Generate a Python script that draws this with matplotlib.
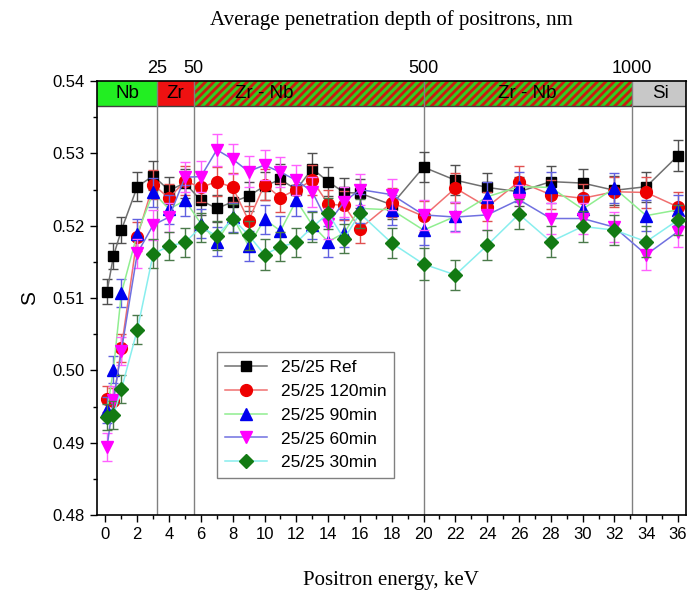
import numpy as np
import matplotlib
matplotlib.use('Agg')
import matplotlib.pyplot as plt
from matplotlib.patches import Rectangle
from matplotlib.ticker import MultipleLocator, FormatStrFormatter

# positron energy, keV
energy = [0.1, 0.5, 1, 2, 3, 4, 5, 6, 7, 8, 9, 10, 11, 12, 13, 14, 15, 16,
          18, 20, 22, 24, 26, 28, 30, 32, 34, 36]

s_ref = [0.5109, 0.5158, 0.5194, 0.5254, 0.5269, 0.5249, 0.5259, 0.5235, 0.5224, 0.5233,
         0.5241, 0.5255, 0.5264, 0.5250, 0.5279, 0.5261, 0.5246, 0.5245, 0.5229, 0.5281,
         0.5263, 0.5253, 0.5247, 0.5261, 0.5259, 0.5249, 0.5254, 0.5297]
s_120 = [0.4960, 0.4958, 0.5031, 0.5185, 0.5257, 0.5238, 0.5262, 0.5253, 0.5261, 0.5253,
         0.5207, 0.5257, 0.5239, 0.5250, 0.5263, 0.5230, 0.5228, 0.5196, 0.5232, 0.5213,
         0.5252, 0.5226, 0.5261, 0.5243, 0.5238, 0.5247, 0.5246, 0.5226]
s_90 = [0.4945, 0.5001, 0.5107, 0.5189, 0.5246, 0.5223, 0.5235, 0.5203, 0.5178, 0.5212,
        0.5172, 0.5209, 0.5193, 0.5235, 0.5201, 0.5178, 0.5190, 0.5224, 0.5222, 0.5194,
        0.5213, 0.5240, 0.5254, 0.5253, 0.5223, 0.5252, 0.5214, 0.5222]
s_60 = [0.4894, 0.4959, 0.5027, 0.5162, 0.5201, 0.5212, 0.5267, 0.5268, 0.5305, 0.5292,
        0.5275, 0.5284, 0.5274, 0.5263, 0.5247, 0.5203, 0.5233, 0.5250, 0.5243, 0.5215,
        0.5212, 0.5215, 0.5236, 0.5210, 0.5210, 0.5198, 0.5160, 0.5192]
s_30 = [0.4935, 0.4938, 0.4974, 0.5056, 0.5161, 0.5172, 0.5177, 0.5198, 0.5186, 0.5210,
        0.5187, 0.5160, 0.5171, 0.5177, 0.5198, 0.5217, 0.5182, 0.5217, 0.5176, 0.5147,
        0.5132, 0.5173, 0.5216, 0.5178, 0.5199, 0.5194, 0.5178, 0.5208]

err_ref = [0.0017, 0.0018, 0.0018, 0.0020, 0.0020, 0.0019, 0.0020, 0.0020, 0.0019, 0.0020,
           0.0020, 0.0020, 0.0021, 0.0020, 0.0021, 0.0020, 0.0020, 0.0020, 0.0020, 0.0021,
           0.0021, 0.0020, 0.0020, 0.0021, 0.0020, 0.0020, 0.0021, 0.0021]
err_120 = [0.0018, 0.0018, 0.0019, 0.0020, 0.0020, 0.0020, 0.0020, 0.0020, 0.0020, 0.0020,
           0.0020, 0.0021, 0.0020, 0.0020, 0.0021, 0.0020, 0.0020, 0.0020, 0.0020, 0.0021,
           0.0021, 0.0020, 0.0021, 0.0020, 0.0020, 0.0021, 0.0021, 0.0021]
err_90 = [0.0018, 0.0019, 0.0019, 0.0020, 0.0020, 0.0020, 0.0021, 0.0020, 0.0020, 0.0020,
          0.0021, 0.0020, 0.0020, 0.0021, 0.0020, 0.0021, 0.0020, 0.0020, 0.0021, 0.0021,
          0.0020, 0.0020, 0.0021, 0.0021, 0.0020, 0.0021, 0.0021, 0.0021]
err_60 = [0.0019, 0.0019, 0.0019, 0.0020, 0.0021, 0.0020, 0.0021, 0.0021, 0.0022, 0.0021,
          0.0021, 0.0021, 0.0021, 0.0021, 0.0021, 0.0021, 0.0021, 0.0021, 0.0021, 0.0021,
          0.0021, 0.0021, 0.0021, 0.0021, 0.0021, 0.0021, 0.0021, 0.0021]
err_30 = [0.0018, 0.0019, 0.0019, 0.0020, 0.0020, 0.0020, 0.0020, 0.0020, 0.0020, 0.0020,
          0.0020, 0.0021, 0.0020, 0.0020, 0.0021, 0.0021, 0.0020, 0.0020, 0.0021, 0.0022,
          0.0021, 0.0021, 0.0021, 0.0021, 0.0021, 0.0021, 0.0021, 0.0021]

labels = ["25/25 Ref", "25/25 120min", "25/25 90min", "25/25 60min", "25/25 30min"]

# layer boundaries (keV) and top axis labels (nm)
bounds = [3.26, 5.55, 20, 33.1]
depth_labels = ["25", "50", "500", "1000"]
layers = ["Nb", "Zr", "Zr - Nb", "Zr - Nb", "Si"]
layer_pos = [1.4, 4.4, 10.0, 26.5, 34.9]


def draw():
	plt.rcParams['font.family'] = ['Liberation Sans', 'DejaVu Sans']
	plt.rcParams['hatch.linewidth'] = 2.2

	fig = plt.figure(figsize=(6.88, 5.92), dpi=100)
	ax1 = fig.add_axes([0.1406, 0.130, 0.8565, 0.733])

	xmin, xmax = -0.55, 36.5
	ymin, ymax = 0.48, 0.54
	band_lo = 0.5366

	series = [s_ref, s_120, s_90, s_60, s_30]
	errs = [err_ref, err_120, err_90, err_60, err_30]
	markers = ['s', 'o', '^', 'v', 'D']
	mcolors = ['black', '#ee0000', '#0000ee', '#ff00ff', '#137a13']
	lcolors = ['#707070', '#f07070', '#90ee90', '#7070e0', '#88eeee']
	ecolors = ['#505050', '#e05050', '#6060e0', '#ff60ff', '#4a7a4a']
	msizes = [7.5, 8.5, 9, 9, 7.5]

	for i in range(len(series)):
		ax1.errorbar(energy, series[i], yerr=errs[i], fmt='none', ecolor=ecolors[i],
			elinewidth=1, capsize=3.5, capthick=1, zorder=3 + i)
		ax1.plot(energy, series[i], color=lcolors[i], lw=1.1, marker=markers[i],
			ms=msizes[i], mfc=mcolors[i], mec=mcolors[i], label=labels[i], zorder=3 + i)

	# material band on top
	edges = [xmin, bounds[0], bounds[1], bounds[3], xmax]
	fills = ['#22ee22', '#ee1111', '#dd1111', '#c8c8c8']
	for k in range(4):
		if k == 2:
			r = Rectangle((edges[k], band_lo), edges[k + 1] - edges[k], ymax - band_lo,
				facecolor='#cc1a10', edgecolor='#33cc22', hatch='////', lw=0, zorder=1)
		else:
			r = Rectangle((edges[k], band_lo), edges[k + 1] - edges[k], ymax - band_lo,
				facecolor=fills[k], edgecolor='none', lw=0, zorder=1)
		ax1.add_patch(r)
	ax1.axhline(band_lo, color='#404040', lw=1, zorder=2)
	for b in bounds:
		ax1.axvline(b, color='#808080', lw=1, zorder=2)
	for name, pos in zip(layers, layer_pos):
		ax1.text(pos, (band_lo + ymax) / 2, name, ha='center', va='center',
			fontsize=13.5, zorder=2)

	ax1.set_xlim(xmin, xmax)
	ax1.set_ylim(ymin, ymax)
	ax1.xaxis.set_major_locator(MultipleLocator(2))
	ax1.xaxis.set_minor_locator(MultipleLocator(1))
	ax1.yaxis.set_major_locator(MultipleLocator(0.01))
	ax1.yaxis.set_minor_locator(MultipleLocator(0.005))
	ax1.yaxis.set_major_formatter(FormatStrFormatter('%.2f'))
	ax1.tick_params(which='major', direction='out', length=5, width=1, labelsize=12)
	ax1.tick_params(which='minor', direction='out', length=3, width=1)
	ax1.tick_params(top=False, right=False, which='both')
	for sp in ax1.spines.values():
		sp.set_linewidth(1.2)

	ax2 = ax1.secondary_xaxis('top')
	ax2.set_xticks(bounds)
	ax2.set_xticklabels(depth_labels)
	ax2.tick_params(length=0, pad=3, labelsize=13)
	ax2.set_xlabel("Average penetration depth of positrons, nm", fontsize=15,
		family='Liberation Serif', labelpad=25)

	ax1.set_xlabel("Positron energy, keV", fontsize=15, family='Liberation Serif', labelpad=21)
	ax1.set_ylabel("S", fontsize=15, labelpad=10)

	legend = ax1.legend(loc='lower left', bbox_to_anchor=(0.19, 0.065), fontsize=12.5,
		fancybox=False, edgecolor='#808080', handlelength=2.4, borderpad=0.45,
		labelspacing=0.5, framealpha=1)
	legend.get_frame().set_linewidth(1)

	plt.savefig("out.png", dpi=100)


def main():
	draw()


if __name__ == "__main__":
	main()
